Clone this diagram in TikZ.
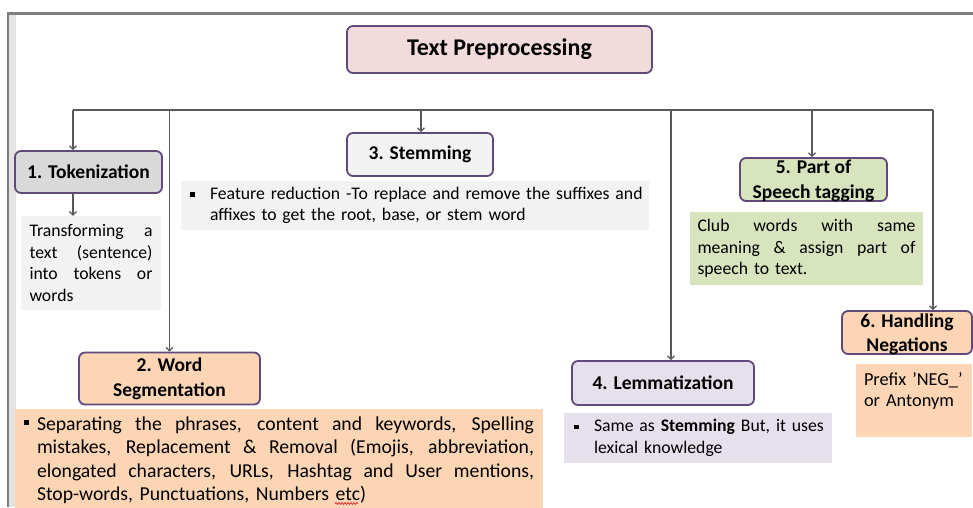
\documentclass[tikz,border=0pt]{standalone}
\usepackage{fontspec}
\setmainfont{Carlito}
\usetikzlibrary{arrows.meta,decorations.pathmorphing}
\definecolor{framegray}{HTML}{7F7F7F}
\definecolor{framelight}{HTML}{E3E3E3}
\definecolor{boxborder}{HTML}{604A7B}
\definecolor{pinkf}{HTML}{F2DCDB}
\definecolor{tokf}{HTML}{D9D9D9}
\definecolor{lgray}{HTML}{F2F2F2}
\definecolor{greenf}{HTML}{D7E4BD}
\definecolor{lavf}{HTML}{E6E0EC}
\definecolor{peachf}{HTML}{FCD5B5}
\definecolor{connc}{HTML}{595959}
\definecolor{spellred}{HTML}{E03030}
\newcommand\sqbul[2]{\makebox[#1][l]{\raisebox{#2}{\rule{4.5pt}{4.5pt}}}}
\newcommand\jline[2]{\leavevmode\hbox to #1{\spaceskip=0.22em plus 1fil\relax\xspaceskip=\spaceskip #2}}
\tikzset{
  box/.style={draw=boxborder, line width=1.8pt, rounded corners=6pt, inner sep=0pt,
    align=center, font=\bfseries\fontsize{19.5}{25}\selectfont},
  boxtext/.style={inner sep=0pt, align=center, font=\bfseries\fontsize{19.5}{24.5}\selectfont},
  desc/.style={inner sep=0pt, align=left, font=\fontsize{17.7}{21.5}\selectfont},
  conn/.style={draw=connc, line width=1.2pt},
  arr/.style={conn, -{Straight Barb[length=3.5pt,width=7pt]}}
}
\begin{document}
\begin{tikzpicture}[x=1pt,y=-1pt]
\useasboundingbox (0,0) rectangle (973,507);
% frame
\fill[framelight] (9,15) rectangle (16,507);
\draw[framegray, line width=2.5pt] (8,507) -- (8,13.5) -- (973,13.5);

% title
\node[box, fill=pinkf, minimum width=305, minimum height=47,
  font=\bfseries\fontsize{24}{27}\selectfont] (title) at (499.5,49.5) {Text Preprocessing};

% step boxes
\node[box, fill=tokf, minimum width=147, minimum height=42] (tok) at (88.5,172) {1. Tokenization};
\node[box, fill=lgray, minimum width=146, minimum height=43] (stem) at (420,154.5) {3. Stemming};
\node[box, fill=greenf, minimum width=147, minimum height=43] (pos) at (813.5,179.5) {};
\node[boxtext] (posl) at (813.5,181) {5. Part of\\Speech tagging};
\node[box, fill=lavf, minimum width=182, minimum height=44] (lem) at (663,383) {4. Lemmatization};
\node[box, fill=peachf, minimum width=130, minimum height=43] (neg) at (907,332.5) {};
\node[boxtext] (negl) at (907,334.5) {6. Handling\\Negations};
\node[box, fill=peachf, minimum width=181, minimum height=52] (ws) at (169.5,378.5) {2. Word\\Segmentation};

% descriptions
\node[desc, fill=lgray, minimum width=140, minimum height=94, text width=123pt] (tokd) at (91,263)
  {\jline{123pt}{Transforming a}\\
   \jline{123pt}{text (sentence)}\\
   \jline{123pt}{into tokens or}\\
   words};
\node[desc, fill=lgray, minimum width=468, minimum height=49, text width=450pt] (stemd) at (415,205.5)
  {\sqbul{20pt}{2.8pt}\mbox{Feature reduction -To replace and remove the suffixes and}\\
   \hspace*{20pt}\mbox{affixes to get the root, base, or stem word}};
\node[desc, fill=greenf, minimum width=233, minimum height=73, text width=218pt] (posd) at (806.5,248.5)
  {\jline{218pt}{Club words with same}\\
   \jline{218pt}{meaning \& assign part of}\\
   speech to text.};
\node[desc, fill=lavf, minimum width=268, minimum height=50, text width=248pt] (lemd) at (698,438)
  {\sqbul{20pt}{2.8pt}\mbox{Same as \textbf{Stemming} But, it uses}\\
   \hspace*{20pt}\mbox{lexical knowledge}};
\node[desc, fill=peachf, minimum width=116, minimum height=73, text width=100pt,
  font=\fontsize{18.3}{21.5}\selectfont] (negd) at (914,400.5)
  {Prefix ’NEG\_’\\or Antonym\\\mbox{}};
\node[desc, fill=peachf, minimum width=528, minimum height=102, text width=510pt,
  font=\fontsize{19.7}{23.5}\selectfont] (wsd) at (279,460)
  {\sqbul{13pt}{5.5pt}\jline{497pt}{Separating the phrases, content and keywords, Spelling}\\
   \hspace*{13pt}\jline{497pt}{mistakes, Replacement \& Removal (Emojis, abbreviation,}\\
   \hspace*{13pt}\jline{497pt}{elongated characters, URLs, Hashtag and User mentions,}\\
   \hspace*{13pt}\mbox{Stop-words, Punctuations, Numbers etc)}};
% spell-check squiggle under "etc"
\draw[spellred, line width=0.8pt, decorate,
  decoration={snake, amplitude=0.9pt, segment length=3pt}] (335,503.5) -- (358,503.5);

% bus and connectors
\coordinate (b1) at (73,110);
\coordinate (b2) at (169.5,110);
\coordinate (b3) at (421,110);
\coordinate (b4) at (671,110);
\coordinate (b5) at (812,110);
\coordinate (b6) at (933,110);
\draw[conn] (b1) -- (b6);
\draw[arr] (b1) -- (b1 |- tok.north);
\draw[arr] (b2) -- (b2 |- ws.north);
\draw[arr] (b3) -- (b3 |- stem.north);
\draw[arr] (b4) -- (b4 |- lem.north);
\draw[arr] (b5) -- (b5 |- pos.north);
\draw[arr] (b6) -- (b6 |- neg.north);
\draw[arr] (tok.south -| b1) -- (b1 |- tokd.north);
\end{tikzpicture}
\end{document}
